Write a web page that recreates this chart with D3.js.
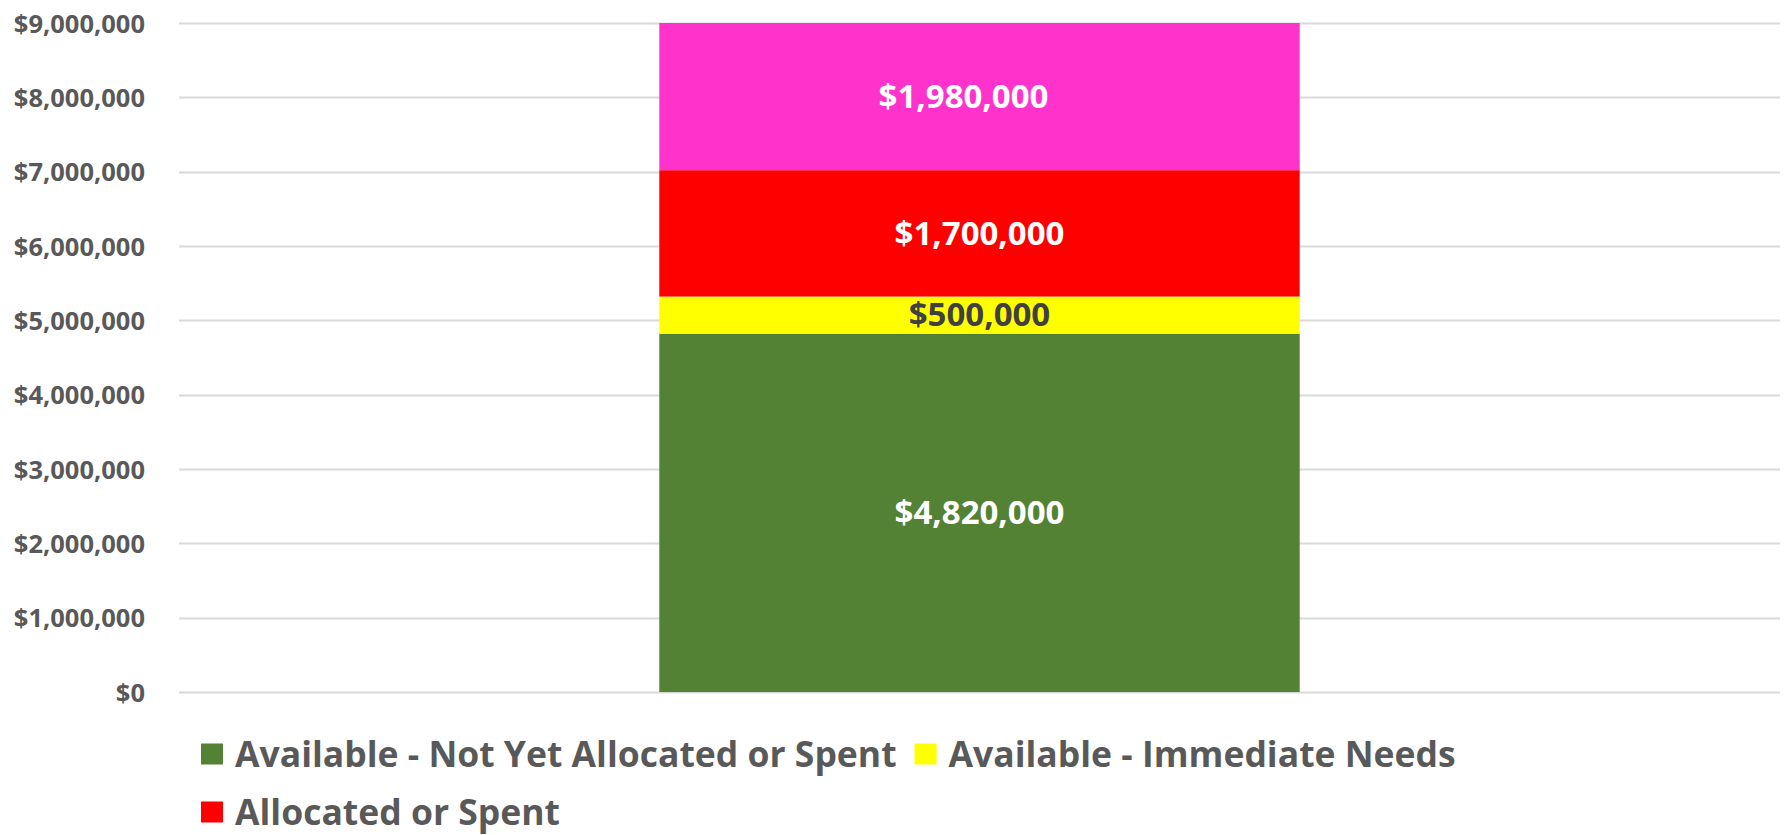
<!DOCTYPE html>
<html>
<head>
<meta charset="utf-8">
<script src="https://cdn.jsdelivr.net/npm/d3@7"></script>
<style>
  html, body { margin: 0; padding: 0; background: #fff; }
  svg { display: block; font-family: "Open Sans", Lato, sans-serif; font-weight: 700; }
</style>
</head>
<body>
<svg id="chart" width="1786" height="835"></svg>
<script>
// ---- data ----
const categories = ["Budget"];
const seriesNames = [
  "Available - Not Yet Allocated or Spent",
  "Available - Immediate Needs",
  "Allocated or Spent",
  ""
];
const seriesValues = [4820000, 500000, 1700000, 1980000];
const seriesColors = ["#548235", "#FFFF00", "#FF0000", "#FF33CC"];
const labelColors = ["#FFFFFF", "#404040", "#FFFFFF", "#FFFFFF"];
const yTicks = [0, 1000000, 2000000, 3000000, 4000000, 5000000, 6000000, 7000000, 8000000, 9000000];

// ---- layout ----
const W = 1786, H = 835;
const plot = { left: 179, right: 1780, top: 23, bottom: 692 };
const labelNudge = [0, 0, 0, -16];
const svg = d3.select("#chart");
svg.append("rect").attr("width", W).attr("height", H).attr("fill", "#fff");

const x = d3.scaleBand().domain(categories).range([plot.left, plot.right])
  .paddingInner(0.6).paddingOuter(0.3);
const y = d3.scaleLinear().domain([0, 9000000]).range([plot.bottom, plot.top]);

const fmt = v => "$" + d3.format(",")(v);

// gridlines
svg.append("g").selectAll("line").data(yTicks).join("line")
  .attr("x1", plot.left).attr("x2", plot.right)
  .attr("y1", d => Math.round(y(d)) + 0.5).attr("y2", d => Math.round(y(d)) + 0.5)
  .attr("stroke", "#D9D9D9").attr("stroke-width", 2);

// y axis labels
const yAxis = d3.axisLeft(y).tickValues(yTicks).tickFormat(fmt).tickSize(0).tickPadding(0);
const ga = svg.append("g").attr("transform", `translate(145,0)`).call(yAxis);
ga.select(".domain").remove();
ga.selectAll("text").attr("font-family", "'Open Sans', sans-serif").attr("font-weight", 700)
  .attr("font-size", 25.5).attr("fill", "#595959").attr("dy", "0.36em");

// stacked data
const row = {};
seriesValues.forEach((v, i) => row["s" + i] = v);
const stack = d3.stack().keys(seriesValues.map((_, i) => "s" + i))([row]);

const segs = svg.append("g").selectAll("g").data(stack).join("g");
segs.append("rect")
  .attr("x", x(categories[0])).attr("width", x.bandwidth())
  .attr("y", d => y(d[0][1])).attr("height", d => y(d[0][0]) - y(d[0][1]))
  .attr("fill", (d, i) => seriesColors[i]);
segs.append("text")
  .attr("x", (d, i) => x(categories[0]) + x.bandwidth() / 2 + labelNudge[i])
  .attr("y", d => (y(d[0][0]) + y(d[0][1])) / 2)
  .attr("dy", "0.34em")
  .attr("text-anchor", "middle")
  .attr("font-size", 33).attr("font-weight", 700)
  .attr("fill", (d, i) => labelColors[i])
  .text((d, i) => fmt(seriesValues[i]));

// legend
const legFont = 35.5;
const lg = svg.append("g");
const rows = [[0, 1], [2]];
const rowY = [754, 812];
rows.forEach((r, ri) => {
  let cx = 201;
  r.forEach(si => {
    const g = lg.append("g").attr("transform", `translate(${cx},${rowY[ri]})`);
    g.append("rect").attr("x", 0).attr("y", -10.5).attr("width", 22).attr("height", 21)
      .attr("fill", seriesColors[si]);
    const t = g.append("text").attr("x", 34).attr("y", 0).attr("dy", "0.36em")
      .attr("font-size", legFont).attr("font-weight", 700).attr("fill", "#595959")
      .text(seriesNames[si]);
    cx += 34 + t.node().getComputedTextLength() + 18;
  });
});
</script>
</body>
</html>
